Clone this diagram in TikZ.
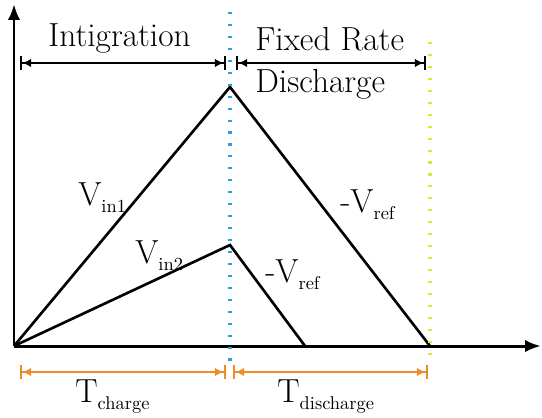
\documentclass[tikz,border=0pt]{standalone}
\usepackage{tikz}
\usetikzlibrary{arrows.meta}
\usepackage{xcolor}
\definecolor{tcol}{RGB}{240,140,40}
\definecolor{splitcol}{RGB}{40,160,220}
\definecolor{endcol}{RGB}{215,232,60}
\newcommand{\lowsub}[2]{#1\raisebox{-4pt}{\fontsize{10.5}{11}\selectfont #2}}

\begin{document}
\begin{tikzpicture}[x=0.02cm, y=-0.02cm, >={Latex[length=9pt,width=7pt]},
  lbl/.style={inner sep=0pt, anchor=base west, font=\fontsize{19}{22}\selectfont},
  dim/.style={line width=1.4pt, {Bar[width=8pt]Latex[length=5pt,width=5pt]}-{Latex[length=5pt,width=5pt]Bar[width=8pt]}},
  guide/.style={line width=2.2pt, dash pattern=on 1.2pt off 5.6pt}]
  \useasboundingbox (0,0) rectangle (542,417);
  % axes
  \coordinate (O) at (14,346);
  \coordinate (ytop) at (14,4);
  \coordinate (xend) at (541,346);
  \draw[->, line width=1.7pt] (O) -- (ytop);
  \draw[->, line width=1.7pt] (O) -- (xend);
  % ramps
  \coordinate (p1) at (230,87);
  \coordinate (p2) at (230,245);
  \coordinate (e1) at (430,346);
  \coordinate (e2) at (305,346);
  \draw[line width=1.5pt, line join=miter] (O) -- (p1) -- (e1);
  \draw[line width=1.5pt, line join=miter] (O) -- (p2) -- (e2);
  % guides
  \coordinate (bt) at (230,12);
  \coordinate (bb) at (230,362);
  \coordinate (yt) at (430,42);
  \coordinate (yb) at (430,356);
  \draw[guide, splitcol] (bt) -- (bb);
  \draw[guide, endcol] (yt) -- (yb);
  % phases
  \coordinate (a1) at (20,63);
  \coordinate (a2) at (226,63);
  \coordinate (a3) at (236,63);
  \coordinate (a4) at (426,63);
  \draw[dim] (a1) -- (a2);
  \draw[dim] (a3) -- (a4);
  \coordinate (c1) at (20,372);
  \coordinate (c2) at (226,372);
  \coordinate (c3) at (233,372);
  \coordinate (c4) at (428,372);
  \draw[dim, tcol] (c1) -- (c2);
  \draw[dim, tcol] (c3) -- (c4);
  % labels
  \node[lbl] (intig) at (48,46) {Intigration};
  \node[lbl] (fixed) at (255,50) {Fixed Rate};
  \node[lbl] (disch) at (255,92) {Discharge};
  \node[lbl] (vin1) at (78,205) {\lowsub{V}{in1}};
  \node[lbl] (vin2) at (135,263) {\lowsub{V}{in2}};
  \node[lbl] (vref1) at (340,212) {-\lowsub{V}{ref}};
  \node[lbl] (vref2) at (265,282) {-\lowsub{V}{ref}};
  \node[lbl] (tch) at (75,402) {\lowsub{T}{charge}};
  \node[lbl] (tdis) at (277,402) {\lowsub{T}{discharge}};
\end{tikzpicture}
\end{document}
